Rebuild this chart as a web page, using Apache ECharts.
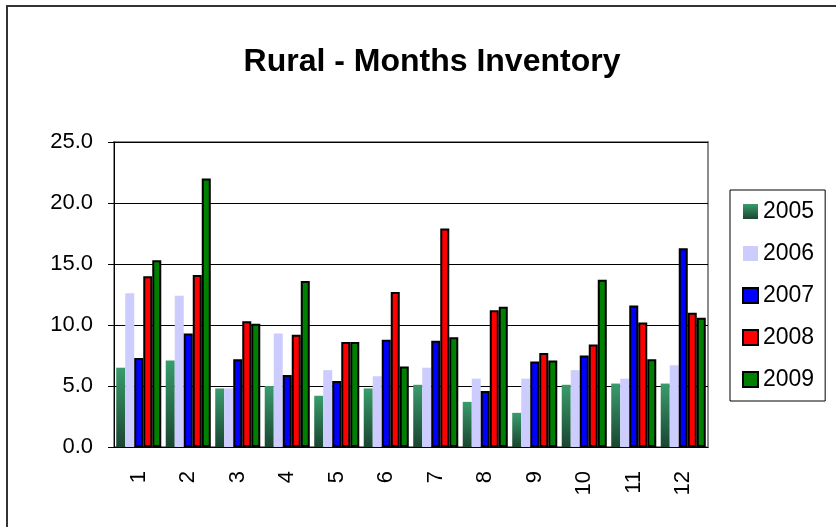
<!DOCTYPE html>
<html>
<head>
    <meta charset="utf-8">
    <title>Rural - Months Inventory</title>
    <style>
        html, body { margin: 0; padding: 0; background: #fff; }
        #chart { width: 836px; height: 527px; }
    </style>
</head>
<body>
    <div id="chart"></div>
    <script src="https://cdn.jsdelivr.net/npm/echarts@6/dist/echarts.min.js"></script>
    <script>
        // months on the x axis
        var months = ['1', '2', '3', '4', '5', '6', '7', '8', '9', '10', '11', '12'];
        var years = ['2005', '2006', '2007', '2008', '2009'];
        // months of inventory per year
        var s2005 = [6.5, 7.1, 4.8, 5.0, 4.2, 4.8, 5.1, 3.7, 2.8, 5.1, 5.2, 5.2];
        var s2006 = [12.6, 12.4, 4.8, 9.3, 6.3, 5.8, 6.5, 5.6, 5.6, 6.3, 5.6, 6.7];
        var s2007 = [7.3, 9.3, 7.2, 5.9, 5.4, 8.8, 8.7, 4.6, 7.0, 7.5, 11.6, 16.3];
        var s2008 = [14.0, 14.1, 10.3, 9.2, 8.6, 12.7, 17.9, 11.2, 7.7, 8.4, 10.2, 11.0];
        var s2009 = [15.3, 22.0, 10.1, 13.6, 8.6, 6.6, 9.0, 11.5, 7.1, 13.7, 7.2, 10.6];
        var yTicks = [0, 5, 10, 15, 20, 25];

        var font = 'Liberation Sans, Arial, sans-serif';
        var chart = echarts.init(document.getElementById('chart'));

        var green2005 = new echarts.graphic.LinearGradient(0, 0, 0, 1, [
            { offset: 0, color: '#3a9c6c' },
            { offset: 1, color: '#1a4632' }
        ]);

        function bar(name, data, color, bordered) {
            return {
                name: name,
                type: 'bar',
                data: data,
                barGap: 0,
                barCategoryGap: '9%',
                itemStyle: {
                    color: color,
                    borderColor: bordered ? '#000' : color,
                    borderWidth: bordered ? 2 : 0
                }
            };
        }

        var option = {
            animation: false,
            backgroundColor: '#fff',
            graphic: [{
                type: 'rect',
                shape: { x: 7, y: 6, width: 860, height: 560 },
                style: { fill: 'none', stroke: '#333', lineWidth: 2 },
                silent: true
            }],
            title: {
                text: 'Rural - Months Inventory',
                left: 427,
                textAlign: 'center',
                top: 41,
                textStyle: { fontFamily: font, fontSize: 32, fontWeight: 'bold', color: '#000' }
            },
            legend: {
                orient: 'vertical',
                left: 730,
                top: 190,
                padding: [10, 11, 10, 12],
                itemGap: 19,
                itemWidth: 15,
                itemHeight: 15,
                icon: 'rect',
                borderColor: '#000',
                borderWidth: 1,
                textStyle: { fontFamily: font, fontSize: 23, color: '#000' },
                data: years
            },
            grid: {
                left: 114,
                right: 128,
                top: 142,
                bottom: 80,
                show: true,
                borderColor: '#8c8c8c',
                borderWidth: 2
            },
            xAxis: {
                type: 'category',
                data: months,
                axisLine: { lineStyle: { color: '#000', width: 1 } },
                axisTick: { length: 6, lineStyle: { color: '#000' } },
                axisLabel: {
                    rotate: 90,
                    margin: 24,
                    fontFamily: font,
                    fontSize: 22,
                    color: '#000'
                }
            },
            yAxis: {
                type: 'value',
                min: yTicks[0],
                max: yTicks[yTicks.length - 1],
                interval: 5,
                axisLine: { show: true, lineStyle: { color: '#000', width: 1 } },
                axisTick: { show: true, length: 6, lineStyle: { color: '#000' } },
                axisLabel: {
                    margin: 21,
                    fontFamily: font,
                    fontSize: 22,
                    color: '#000',
                    formatter: function (v) { return v.toFixed(1); }
                },
                splitLine: { lineStyle: { color: '#000', width: 1 } }
            },
            series: [
                bar('2005', s2005, green2005, false),
                bar('2006', s2006, '#ccccff', false),
                bar('2007', s2007, '#0000ff', true),
                bar('2008', s2008, '#ff0000', true),
                bar('2009', s2009, '#008000', true)
            ]
        };
        chart.setOption(option);
    </script>
</body>
</html>
